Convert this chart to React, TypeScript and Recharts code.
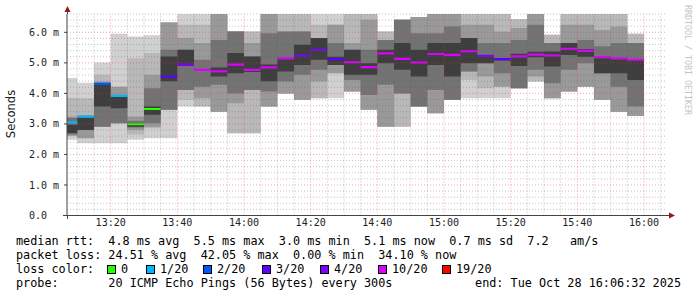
import React from 'react';
import { ComposedChart, Area, XAxis, YAxis, ReferenceLine } from 'recharts';

// one column per 300s probe round (start time of the round)
const SLOTS = [
  '13:05', '13:10', '13:15', '13:20', '13:25', '13:30', '13:35', '13:40', '13:45', '13:50', '13:55',
  '14:00', '14:05', '14:10', '14:15', '14:20', '14:25', '14:30', '14:35', '14:40', '14:45', '14:50', '14:55',
  '15:00', '15:05', '15:10', '15:15', '15:20', '15:25', '15:30', '15:35', '15:40', '15:45', '15:50', '15:55',
];
const STEP_MIN = 5;
const WINDOW = ['13:06:54', '16:06:54'];

// median rtt in ms
const MEDIAN = [
  3.05, 3.24, 4.31, 3.92, 2.99, 3.49, 4.55, 4.94, 4.77, 4.72,
  4.94, 4.77, 4.85, 5.15, 5.24, 5.43, 5.12, 5.02, 4.86, 5.31,
  5.13, 5.01, 5.29, 5.26, 5.38, 5.23, 5.12, 5.21, 5.27, 5.24,
  5.46, 5.39, 5.19, 5.15, 5.10,
];

const LOSS = [
  '1/20', '1/20', '2/20', '1/20', '0', '0', '3/20', '4/20', '10/20', '10/20',
  '10/20', '10/20', '10/20', '10/20', '4/20', '4/20', '3/20', '10/20', '10/20', '10/20',
  '10/20', '10/20', '10/20', '10/20', '10/20', '4/20', '3/20', '10/20', '10/20', '10/20',
  '10/20', '10/20', '10/20', '10/20', '10/20',
];

// smoke bands, outer (light) to inner (dark), [low, high] in ms
const SMOKE_1 = [
  [2.48, 4.5], [2.37, 4.35], [2.37, 5.01], [2.37, 5.95], [2.48, 5.86], [2.53, 5.9], [2.53, 6.32], [3.57, 6.7], [3.57, 6.7], [3.4, 6.7],
  [2.69, 6.03], [2.69, 6.03], [3.57, 6.7], [4.0, 6.7], [3.79, 6.7], [3.84, 6.7], [3.84, 6.7], [4.06, 6.7], [3.46, 6.7], [2.91, 6.03],
  [2.91, 6.41], [3.57, 6.5], [3.35, 6.7], [3.79, 6.7], [3.84, 6.7], [3.84, 6.7], [3.84, 6.7], [4.17, 6.43], [4.39, 6.7], [3.84, 5.92],
  [4.06, 6.7], [4.22, 6.7], [3.79, 6.7], [3.4, 6.7], [3.26, 5.95],
];
const SMOKE_2 = [
  [2.61, 3.85], [2.53, 3.84], [2.91, 4.61], [3.02, 4.22], [2.65, 5.15], [2.86, 5.32], [3.46, 6.32], [3.79, 6.25], [3.57, 6.25], [3.4, 6.7],
  [2.69, 6.03], [2.69, 6.03], [3.57, 6.7], [4.0, 6.7], [3.79, 6.7], [3.84, 6.25], [4.66, 6.25], [4.06, 6.7], [3.46, 6.7], [2.91, 6.03],
  [2.91, 6.41], [3.57, 6.5], [3.35, 6.7], [3.79, 6.7], [4.44, 6.7], [4.17, 6.7], [4.22, 6.7], [4.17, 6.43], [4.39, 6.7], [3.84, 5.92],
  [4.06, 6.7], [4.22, 6.7], [3.79, 6.7], [3.4, 6.7], [3.26, 5.95],
];
const SMOKE_3 = [
  [2.61, 3.24], [2.53, 3.29], [2.91, 4.39], [3.02, 4.22], [2.8, 3.24], [2.9, 4.61], [3.46, 6.32], [4.11, 5.81], [3.84, 5.65], [3.4, 6.7],
  [3.68, 6.03], [4.11, 5.65], [3.57, 6.7], [4.0, 6.03], [3.79, 6.03], [4.39, 5.81], [4.66, 6.25], [4.06, 5.65], [3.46, 6.41], [2.91, 5.75],
  [4.0, 6.41], [3.57, 6.5], [3.35, 6.7], [3.79, 6.7], [4.72, 6.25], [4.55, 6.25], [4.22, 6.03], [4.17, 6.14], [4.55, 6.7], [3.84, 5.65],
  [4.06, 6.25], [4.22, 6.25], [3.79, 6.08], [3.4, 6.19], [3.26, 5.65],
];
const SMOKE_4 = [
  [2.65, 3.19], [2.8, 3.22], [2.91, 4.35], [3.02, 3.95], [2.88, 3.1], [3.02, 4.17], [3.46, 5.43], [4.11, 5.43], [4.22, 5.1], [4.28, 5.75],
  [4.0, 6.03], [4.11, 5.21], [4.06, 5.97], [4.39, 6.03], [4.61, 6.03], [4.77, 5.81], [4.93, 5.65], [4.44, 5.43], [3.95, 5.43], [4.28, 5.75],
  [4.0, 6.41], [3.57, 5.97], [4.11, 5.97], [3.79, 6.19], [4.72, 5.81], [4.99, 5.65], [4.66, 5.65], [4.17, 5.75], [4.77, 6.25], [4.33, 5.65],
  [4.77, 5.65], [4.99, 5.75], [4.66, 5.54], [4.22, 5.65], [3.57, 5.65],
];
const SMOKE_5 = [
  [2.7, 2.97], [2.8, 3.2], [3.57, 4.28], [3.51, 3.9], [2.91, 3.02], [3.3, 3.57], [4.4, 5.21], [4.9, 5.43], [4.74, 4.8], [4.55, 4.85],
  [4.66, 5.32], [4.7, 5.21], [4.4, 4.95], [4.72, 5.12], [4.93, 5.59], [5.1, 5.81], [4.93, 5.2], [4.61, 5.43], [4.61, 4.99], [4.99, 5.43],
  [4.77, 5.65], [4.55, 5.43], [4.93, 5.65], [4.55, 5.65], [4.99, 5.81], [4.99, 5.26], [5.08, 5.16], [4.9, 5.3], [5.18, 5.36], [4.88, 5.37],
  [5.26, 5.65], [5.2, 5.45], [4.66, 5.15], [4.66, 5.12], [4.44, 5.1],
];

const SMOKE = [SMOKE_1, SMOKE_2, SMOKE_3, SMOKE_4, SMOKE_5];
const SMOKE_COLORS = ['#d0d0d0', '#b8b8b8', '#999999', '#737373', '#3e3e3e'];

const LOSS_STEPS = ['0', '1/20', '2/20', '3/20', '4/20', '10/20', '19/20'];
const LOSS_COLORS: Record<string, string> = {
  '0': '#26ff00',
  '1/20': '#00b8ff',
  '2/20': '#0059ff',
  '3/20': '#5e00ff',
  '4/20': '#7e00ff',
  '10/20': '#dd00ff',
  '19/20': '#ff0000',
};

const TIME_TICKS = ['13:20', '13:40', '14:00', '14:20', '14:40', '15:00', '15:20', '15:40', '16:00'];
const Y_TICKS = [0, 1, 2, 3, 4, 5, 6];
const Y_MAX = 6.6;

const MEDIAN_HALF = 0.035; // half height of the median stripe
const MONO = '"DejaVu Sans Mono", monospace';

const toMin = (s: string) => {
  const [h, m, sec = 0] = s.split(':').map(Number);
  return (h - 13) * 60 + m + sec / 60;
};

const rows = SLOTS.flatMap((s, i) => {
  const t = toMin(s);
  return [{ t, i }, { t: t + STEP_MIN, i }];
});

const tickMinutes = TIME_TICKS.map(toMin);
const [xStart, xEnd] = WINDOW.map(toMin);

const minorY: number[] = [];
for (let k = 1; k <= Math.floor(Y_MAX * 5); k++) if (k % 5 !== 0) minorY.push(k / 5);
const minorX: number[] = [];
for (let t = Math.ceil(xStart / 5) * 5; t <= xEnd; t += 5) if (t % 20 !== 0) minorX.push(t);

const MINOR = 'rgba(90,90,90,0.35)';
const MAJOR = 'rgba(230,60,60,0.45)';

const legendLines = [
  'median rtt:  4.8 ms avg  5.5 ms max  3.0 ms min  5.1 ms now  0.7 ms sd  7.2   am/s',
  'packet loss: 24.51 % avg  42.05 % max  0.00 % min  34.10 % now',
];
const LOSS_BOX_X = [107, 146, 203, 262, 320, 378, 442];

export default function App() {
  return (
    <div style={{ position: 'absolute', left: 0, top: 0, width: 697, height: 297, background: '#fff', overflow: 'hidden' }}>
      <ComposedChart width={697} height={240} data={rows} margin={{ top: 14, right: 30, bottom: 0, left: 0 }}>
        <XAxis
          type="number"
          dataKey="t"
          domain={[xStart, xEnd]}
          allowDataOverflow
          ticks={tickMinutes}
          interval={0}
          tickFormatter={(v: number) => TIME_TICKS[tickMinutes.findIndex((m) => Math.abs(m - v) < 0.01)] ?? ''}
          tickLine={false}
          tickSize={0}
          tickMargin={3}
          height={24.5}
          axisLine={{ stroke: '#444' }}
          tick={{ fontSize: 10, fontFamily: MONO, fill: '#222' }}
        />
        <YAxis
          type="number"
          domain={[0, Y_MAX]}
          allowDataOverflow
          ticks={Y_TICKS}
          interval={0}
          width={67}
          tickSize={3}
          tickMargin={5}
          tickFormatter={(v: number) => (v === 0 ? '0.0\u00a0\u00a0' : v.toFixed(1) + '\u00a0m')}
          axisLine={{ stroke: '#444' }}
          tickLine={{ stroke: '#444' }}
          tick={{ fontSize: 10, fontFamily: MONO, fill: '#222' }}
        />
        {SMOKE.map((band, k) => (
          <Area
            key={'smoke' + k}
            type="linear"
            dataKey={(r: { i: number }) => band[r.i]}
            stroke="none"
            fill={SMOKE_COLORS[k]}
            fillOpacity={1}
            dot={false}
            activeDot={false}
            isAnimationActive={false}
          />
        ))}
        {LOSS_STEPS.map((step) => (
          <Area
            key={'median' + step}
            type="linear"
            dataKey={(r: { i: number }) =>
              LOSS[r.i] === step ? [MEDIAN[r.i] - MEDIAN_HALF, MEDIAN[r.i] + MEDIAN_HALF] : null
            }
            stroke="none"
            fill={LOSS_COLORS[step]}
            fillOpacity={1}
            dot={false}
            activeDot={false}
            isAnimationActive={false}
          />
        ))}
        {minorY.map((v) => (
          <ReferenceLine key={'hy' + v} y={v} stroke={MINOR} strokeDasharray="1 2" />
        ))}
        {minorX.map((v) => (
          <ReferenceLine key={'hx' + v} x={v} stroke={MINOR} strokeDasharray="1 2" />
        ))}
        {Y_TICKS.slice(1).map((v) => (
          <ReferenceLine key={'my' + v} y={v} stroke={MAJOR} strokeDasharray="1 2" />
        ))}
        {tickMinutes.map((v) => (
          <ReferenceLine key={'mx' + v} x={v} stroke={MAJOR} strokeDasharray="1 2" />
        ))}
      </ComposedChart>

      <svg width={697} height={297} style={{ position: 'absolute', left: 0, top: 0, pointerEvents: 'none' }}>
        <line x1={67.5} y1={9} x2={67.5} y2={14} stroke="#444" />
        <line x1={67.5} y1={215} x2={67.5} y2={219} stroke="#444" />
        <line x1={63} y1={215.5} x2={67} y2={215.5} stroke="#444" />
        <line x1={667} y1={215.5} x2={670} y2={215.5} stroke="#444" />
        <polygon points="64.5,12 70.5,12 67.5,6" fill="#8b1a1a" />
        <polygon points="669,212.5 669,218.5 675,215.5" fill="#8b1a1a" />
      </svg>

      <div
        style={{
          position: 'absolute', left: 11, top: 114, transform: 'translate(-50%, -50%) rotate(-90deg)',
          fontFamily: '"DejaVu Sans", sans-serif', fontSize: 11.5, color: '#222', whiteSpace: 'nowrap',
        }}
      >
        Seconds
      </div>
      <div
        style={{
          position: 'absolute', left: 683, top: 5, writingMode: 'vertical-rl',
          fontFamily: MONO, fontSize: 8.3, color: '#c4c4c4', whiteSpace: 'nowrap', lineHeight: '9px',
        }}
      >
        RRDTOOL / TOBI OETIKER
      </div>

      {legendLines.map((line, n) => (
        <div
          key={n}
          style={{
            position: 'absolute', left: 16, top: 234 + n * 14, fontFamily: MONO, fontSize: 11.8,
            lineHeight: '14px', whiteSpace: 'pre', color: '#000',
          }}
        >
          {line}
        </div>
      ))}
      <div style={{ position: 'absolute', left: 16, top: 262, fontFamily: MONO, fontSize: 11.8, lineHeight: '14px', whiteSpace: 'pre' }}>
        loss color:
      </div>
      {LOSS_STEPS.map((step, k) => (
        <React.Fragment key={step}>
          <div
            style={{
              position: 'absolute', left: LOSS_BOX_X[k], top: 264.5, width: 7, height: 7,
              border: '1px solid #000', background: LOSS_COLORS[step],
            }}
          />
          <div
            style={{
              position: 'absolute', left: LOSS_BOX_X[k] + 14, top: 262, fontFamily: MONO, fontSize: 11.8,
              lineHeight: '14px', whiteSpace: 'pre',
            }}
          >
            {step}
          </div>
        </React.Fragment>
      ))}
      <div style={{ position: 'absolute', left: 16, top: 276, fontFamily: MONO, fontSize: 11.8, lineHeight: '14px', whiteSpace: 'pre' }}>
        probe:       20 ICMP Echo Pings (56 Bytes) every 300s
      </div>
      <div style={{ position: 'absolute', right: 16, top: 276, fontFamily: MONO, fontSize: 11.8, lineHeight: '14px', whiteSpace: 'pre' }}>
        end: Tue Oct 28 16:06:32 2025
      </div>
    </div>
  );
}
